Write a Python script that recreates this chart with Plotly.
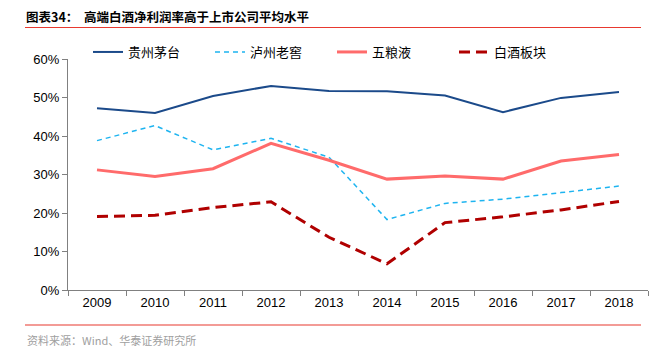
import plotly.graph_objects as go

years = ["2009", "2010", "2011", "2012", "2013", "2014", "2015", "2016", "2017", "2018"]
maotai = [0.472, 0.460, 0.504, 0.530, 0.517, 0.516, 0.505, 0.462, 0.499, 0.514]
laojiao = [0.388, 0.427, 0.364, 0.394, 0.345, 0.183, 0.225, 0.236, 0.253, 0.270]
wuliangye = [0.312, 0.295, 0.315, 0.381, 0.337, 0.288, 0.296, 0.288, 0.335, 0.352]
baijiu = [0.191, 0.194, 0.214, 0.229, 0.137, 0.068, 0.175, 0.190, 0.208, 0.230]

FONT = "Liberation Sans, Arial, Noto Sans CJK SC"
CJK = "Noto Sans CJK SC, Liberation Sans"

fig = go.Figure()
fig.add_trace(go.Scatter(x=years, y=maotai, name="贵州茅台", mode="lines",
                         line=dict(color="#1B4A8A", width=2)))
fig.add_trace(go.Scatter(x=years, y=laojiao, name="泸州老窖", mode="lines",
                         line=dict(color="#1EB4F0", width=1.5, dash="5px,4px")))
fig.add_trace(go.Scatter(x=years, y=wuliangye, name="五粮液", mode="lines",
                         line=dict(color="#FF6B6B", width=3)))
fig.add_trace(go.Scatter(x=years, y=baijiu, name="白酒板块", mode="lines",
                         line=dict(color="#B00000", width=3, dash="11px,6px")))

# page body has an 8px margin; work in window coordinates and shift
OFF = 8
W, H = 663, 356
PL, PR, PT, PB = 68, 648, 59, 290  # plot area in window pixels
L, T = PL - OFF, PT - OFF
R, B = W - (PR - OFF), H - (PB - OFF)
pw, ph = PR - PL, PB - PT

def px(x):
    return (x - PL) / pw

def py(y):
    return (PB - y) / ph

fig.update_layout(
    width=W, height=H,
    margin=dict(l=L, r=R, t=T, b=B, autoexpand=False),
    plot_bgcolor="white", paper_bgcolor="white",
    font=dict(family=FONT, size=13, color="#000000"),
    showlegend=True,
    legend=dict(orientation="h", x=px(88), y=py(52), xanchor="left", yanchor="middle",
                font=dict(family=CJK, size=13), entrywidth=77, entrywidthmode="pixels",
                bgcolor="rgba(0,0,0,0)"),
    xaxis=dict(type="category", range=[-0.5, 9.5], showline=True, linecolor="#808080",
               linewidth=1, ticks="outside", tickson="boundaries", ticklen=5,
               tickcolor="#808080", showgrid=False, tickfont=dict(family=FONT, size=13),
               zeroline=False),
    yaxis=dict(range=[0, 0.6], dtick=0.1, tickformat=".0%", showline=True,
               linecolor="#808080", linewidth=1, ticks="outside", ticklen=5,
               tickcolor="#808080", showgrid=False, zeroline=False,
               tickfont=dict(family=FONT, size=13)),
)

fig.add_annotation(x=px(25), y=py(16.5), xref="paper", yref="paper", xanchor="left",
                   yanchor="middle", showarrow=False, borderpad=0,
                   text="<b>图表34：  高端白酒净利润率高于上市公司平均水平</b>",
                   font=dict(family=CJK, size=12.5, color="#000000"))
fig.add_annotation(x=px(25), y=py(340), xref="paper", yref="paper", xanchor="left",
                   yanchor="middle", showarrow=False,
                   text="资料来源：Wind、华泰证券研究所",
                   font=dict(family=CJK, size=11, color="#A0A0A0"))
fig.add_shape(type="line", xref="paper", yref="paper", x0=px(25), x1=px(641),
              y0=py(27.5), y1=py(27.5), line=dict(color="#E8392F", width=1.2))
fig.add_shape(type="line", xref="paper", yref="paper", x0=px(25), x1=px(641),
              y0=py(325), y1=py(325), line=dict(color="#E8392F", width=1.2))

fig.write_html("out.html")
